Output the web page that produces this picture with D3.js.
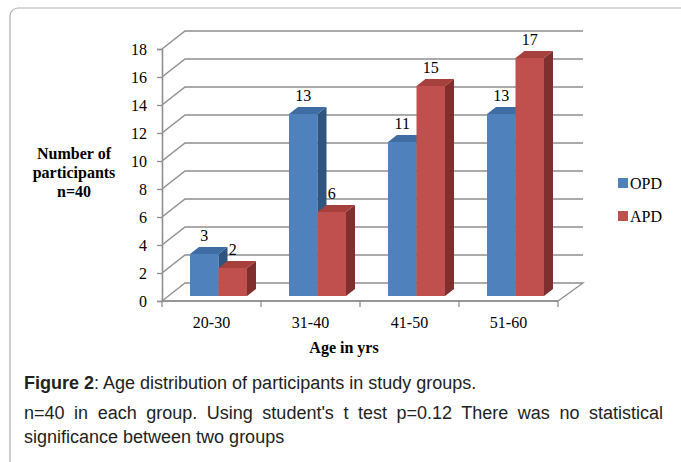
<!DOCTYPE html>
<html>
<head>
<meta charset="utf-8">
<script src="https://cdn.jsdelivr.net/npm/d3@7"></script>
<style>
  html, body { margin: 0; padding: 0; background: #fff; }
  svg { display: block; }
</style>
</head>
<body>
<svg id="chart" width="681" height="462"></svg>
<script>
// Age groups and participant counts per study group
const categories = ["20-30", "31-40", "41-50", "51-60"];
const seriesNames = ["OPD", "APD"];
const opdValues = [3, 13, 11, 13];
const apdValues = [2, 6, 15, 17];
const yTicks = [0, 2, 4, 6, 8, 10, 12, 14, 16, 18];

const colors = {
  OPD: { front: "#4f81bd", top: "#3f6ca3", side: "#2f5480" },
  APD: { front: "#c0504d", top: "#a5403d", side: "#7f2f2d" }
};

const svg = d3.select("#chart");

// Outer figure frame (runs off the right and bottom edges)
svg.append("rect")
  .attr("x", 10).attr("y", 8)
  .attr("width", 700).attr("height", 480)
  .attr("rx", 8).attr("ry", 8)
  .attr("fill", "none")
  .attr("stroke", "#b0b0b0")
  .attr("stroke-width", 1.2);

// Scales
const x = d3.scaleBand().domain(categories).range([162, 558]);
const y = d3.scaleLinear().domain([0, 18]).range([301, 49]);

// 3D depth of the walls and of each column
const wallDx = 23, wallDy = -18;
const barDx = 9, barDy = -7;
const barShiftY = -5;               // columns stand slightly inside the floor
const barW = 28.5;
const barInset = 28;                // offset of first column from band start

const gridColor = "#8f8f8f";

// Floor
const x0 = x.range()[0], x1 = x.range()[1];
svg.append("path")
  .attr("d", `M${x0},${y(0)} L${x1},${y(0)} L${x1 + 25},${y(0) + wallDy} L${x0 + wallDx},${y(0) + wallDy} Z`)
  .attr("fill", "#ffffff")
  .attr("stroke", gridColor)
  .attr("stroke-width", 1.3);

// Gridlines: side wall diagonals + back wall horizontals
const grid = svg.append("g").attr("fill", "none").attr("stroke", gridColor).attr("stroke-width", 1.5);
yTicks.forEach(v => {
  if (v === 0) return;
  grid.append("path")
    .attr("d", `M${x0},${y(v)} L${x0 + wallDx},${y(v) + wallDy} L${x1 + 25},${y(v) + wallDy}`);
});

// Y axis line and ticks
const yAxis = d3.axisLeft(y).tickValues(yTicks).tickSize(5).tickPadding(10);
const yAxisG = svg.append("g")
  .attr("transform", `translate(${x0},0)`)
  .call(yAxis);
yAxisG.select(".domain").attr("stroke", gridColor).attr("stroke-width", 1.6);
yAxisG.selectAll(".tick line").attr("stroke", gridColor).attr("stroke-width", 1.3);
yAxisG.selectAll(".tick text")
  .attr("font-family", "'Liberation Serif', 'Times New Roman', serif")
  .attr("font-size", 16)
  .attr("fill", "#000")
  .attr("dy", "0.35em");

// X axis line with boundary ticks
const xAxisG = svg.append("g");
xAxisG.append("line")
  .attr("x1", x0).attr("x2", x1)
  .attr("y1", y(0)).attr("y2", y(0))
  .attr("stroke", gridColor).attr("stroke-width", 1.6);
const boundaries = categories.map(c => x(c)).concat([x1]);
xAxisG.selectAll("line.tk").data(boundaries).enter().append("line")
  .attr("class", "tk")
  .attr("x1", d => d).attr("x2", d => d)
  .attr("y1", y(0)).attr("y2", y(0) + 6)
  .attr("stroke", gridColor).attr("stroke-width", 1.3);
xAxisG.selectAll("text").data(categories).enter().append("text")
  .attr("x", d => x(d) + x.bandwidth() / 2)
  .attr("y", 328)
  .attr("text-anchor", "middle")
  .attr("font-family", "'Liberation Serif', 'Times New Roman', serif")
  .attr("font-size", 16)
  .attr("fill", "#000")
  .text(d => d);

// Columns
const bars = [];
categories.forEach((c, i) => {
  bars.push({ cat: c, series: "OPD", value: opdValues[i], idx: 0 });
  bars.push({ cat: c, series: "APD", value: apdValues[i], idx: 1 });
});

const barG = svg.append("g");
bars.forEach(b => {
  const bx0 = x(b.cat) + barInset + b.idx * barW;
  const bx1 = bx0 + barW;
  const base = y(0) + barShiftY;
  const top = y(b.value) + barShiftY;
  const col = colors[b.series];
  const g = barG.append("g");
  // front face
  g.append("path")
    .attr("d", `M${bx0},${base} L${bx0},${top} L${bx1},${top} L${bx1},${base} Z`)
    .attr("fill", col.front);
  // side face
  g.append("path")
    .attr("d", `M${bx1},${base} L${bx1},${top} L${bx1 + barDx},${top + barDy} L${bx1 + barDx},${base + barDy} Z`)
    .attr("fill", col.side);
  // top face
  g.append("path")
    .attr("d", `M${bx0},${top} L${bx1},${top} L${bx1 + barDx},${top + barDy} L${bx0 + barDx},${top + barDy} Z`)
    .attr("fill", col.top);
  b.cx = (bx0 + bx1) / 2;
  b.top = top;
});

// Value labels
svg.append("g").selectAll("text").data(bars).enter().append("text")
  .attr("x", d => d.cx)
  .attr("y", d => d.top - 13)
  .attr("text-anchor", "middle")
  .attr("font-family", "'Liberation Serif', 'Times New Roman', serif")
  .attr("font-size", 16)
  .attr("fill", "#000")
  .text(d => d.value);

// Axis titles
const yTitle = svg.append("text")
  .attr("text-anchor", "middle")
  .attr("font-family", "'Liberation Serif', 'Times New Roman', serif")
  .attr("font-size", 16)
  .attr("font-weight", "bold")
  .attr("fill", "#000");
["Number of", "participants", "n=40"].forEach((t, i) => {
  yTitle.append("tspan").attr("x", 74).attr("y", 159 + i * 19).text(t);
});

svg.append("text")
  .attr("x", 344).attr("y", 353)
  .attr("text-anchor", "middle")
  .attr("font-family", "'Liberation Serif', 'Times New Roman', serif")
  .attr("font-size", 16)
  .attr("font-weight", "bold")
  .attr("fill", "#000")
  .text("Age in yrs");

// Legend
const legend = svg.append("g");
seriesNames.forEach((s, i) => {
  const ly = 178 + i * 33;
  legend.append("rect")
    .attr("x", 618).attr("y", ly)
    .attr("width", 10).attr("height", 10)
    .attr("fill", colors[s].front);
  legend.append("text")
    .attr("x", 630).attr("y", ly + 11)
    .attr("font-family", "'Liberation Serif', 'Times New Roman', serif")
    .attr("font-size", 16)
    .attr("fill", "#000")
    .text(s);
});

// Caption
const capFont = "'Liberation Sans', Arial, sans-serif";
const capSize = 18;
const capX = 24;
const cap1 = svg.append("text")
  .attr("x", capX).attr("y", 389)
  .attr("font-family", capFont)
  .attr("font-size", capSize)
  .attr("fill", "#222");
cap1.append("tspan").attr("font-weight", "bold").text("Figure 2");
cap1.append("tspan").text(": Age distribution of participants in study groups.");

// Justified second line: stretch the gaps between words
const line2 = "n=40 in each group. Using student's t test p=0.12 There was no statistical";
const cap2 = svg.append("text")
  .attr("x", capX).attr("y", 419)
  .attr("font-family", capFont)
  .attr("font-size", capSize)
  .attr("fill", "#222")
  .text(line2);
{
  const w = cap2.node().getComputedTextLength();
  const gaps = line2.split(" ").length - 1;
  const target = 663 - capX;
  if (w < target) {
    cap2.attr("word-spacing", (target - w) / gaps);
  } else {
    cap2.attr("textLength", target).attr("lengthAdjust", "spacingAndGlyphs");
  }
}

svg.append("text")
  .attr("x", capX).attr("y", 443)
  .attr("font-family", capFont)
  .attr("font-size", capSize)
  .attr("fill", "#222")
  .text("significance between two groups");
</script>
</body>
</html>
